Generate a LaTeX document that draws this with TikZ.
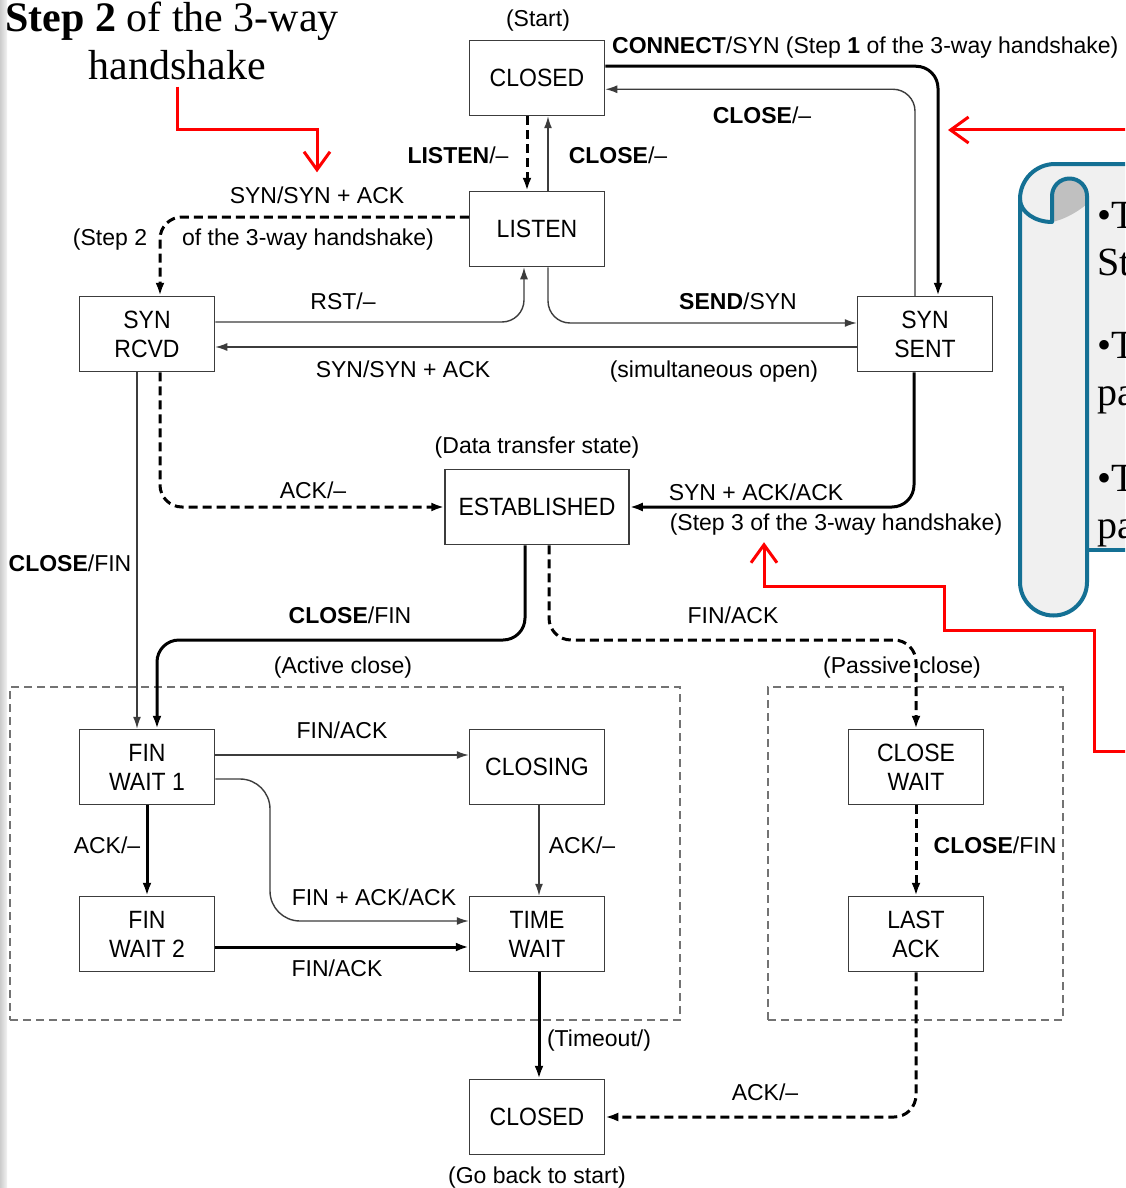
\documentclass[tikz,border=0pt]{standalone}
\usepackage{fontspec}
\setmainfont{Liberation Serif}
\newfontfamily\lblfont{Liberation Sans}
\newfontfamily\boxfont{Liberation Sans}[FakeStretch=0.92]
\usetikzlibrary{arrows.meta}
\definecolor{scrollblue}{RGB}{20,112,148}
\definecolor{sheetgray}{RGB}{240,240,240}
\definecolor{curlgray}{RGB}{192,192,192}
\definecolor{inkgray}{RGB}{60,60,60}

\begin{document}
\begin{tikzpicture}[x=1pt,y=-1pt,
  state/.style={draw=inkgray, line width=1.5pt, minimum width=135pt, minimum height=75pt,
    inner sep=2pt, align=center, font=\boxfont\fontsize{25}{29}\selectfont},
  lbl/.style={font=\lblfont\fontsize{23}{27}\selectfont, inner sep=0pt, text height=17pt, text depth=0pt},
  thinarr/.style={draw=inkgray, line width=1.4pt, -{Latex[length=12pt,width=8pt]}},
  thickarr/.style={draw=black, line width=3pt, -{Latex[length=13pt,width=9pt]}},
  dasharr/.style={thickarr, dash pattern=on 9pt off 5pt},
  groupbox/.style={draw=gray!90!black, line width=1.3pt, dash pattern=on 8pt off 5pt,
    minimum height=333pt, inner sep=0pt},
  curve/.style={rounded corners=22pt},
  redarr/.style={draw=red, line width=3pt, -{Straight Barb[length=18pt,width=26pt]}},
  note/.style={font=\fontsize{42}{47}\selectfont, inner sep=0pt},
  scrolltext/.style={font=\fontsize{40}{47}\selectfont, inner sep=0pt, anchor=base west},
  scrollline/.style={draw=scrollblue, line width=4pt, line join=round}
]
\clip (0,0) rectangle (1125,1188);
\fill[white] (0,0) rectangle (1125,1188);
\shade[left color=black!20, right color=black!5] (0,0) rectangle (7,1188);

% ---------- scroll panel on the right ----------
\fill[sheetgray] (1020,199) arc[start angle=180, end angle=270, radius=35] -- (1140,164)
  -- (1140,550) -- (1087,550) -- (1087,582) arc[start angle=0, end angle=180, radius=33.5] -- cycle;
\fill[curlgray] (1052,222) -- (1052,196) arc[start angle=180, end angle=360, radius=17.5]
  -- (1087,204) .. controls (1075,214) and (1062,220) .. (1052,222);
\draw[scrollline] (1020,199) arc[start angle=180, end angle=270, radius=35] -- (1140,164);
\draw[scrollline] (1020,199) -- (1020,582) arc[start angle=180, end angle=0, radius=33.5]
  -- (1087,196) arc[start angle=360, end angle=180, radius=17.5] -- (1052,222)
  .. controls (1035,222) and (1020,212) .. (1020,199);
\draw[scrollline] (1087,550) -- (1140,550);
\node[scrolltext] (sa) at (1097,228) {•T};
\node[scrolltext] (sb) at (1097,275) {St};
\node[scrolltext] (sc) at (1097,358) {•T};
\node[scrolltext] (sd) at (1097,405) {pa};
\node[scrolltext] (se) at (1097,491) {•T};
\node[scrolltext] (sf) at (1097,538) {pa};

% ---------- note at the top left ----------
\node[note, anchor=base] (notea) at (172,32) {\textbf{Step 2} of the 3-way};
\node[note, anchor=base] (noteb) at (177,80) {handshake};

% ---------- group frames ----------
\node[groupbox, minimum width=670pt] (activebox) at (345,853.5) {};
\node[groupbox, minimum width=295pt] (passivebox) at (915.5,853.5) {};

% ---------- states ----------
\node[state] (closedA) at (537,78) {CLOSED};
\node[state] (listen) at (537,229) {LISTEN};
\node[state] (synrcvd) at (147,334) {SYN\\RCVD};
\node[state] (synsent) at (925,334) {SYN\\SENT};
\node[state, minimum width=184pt] (estab) at (537,507) {ESTABLISHED};
\node[state] (fw1) at (147,767) {FIN\\WAIT 1};
\node[state] (closing) at (537,767) {CLOSING};
\node[state] (fw2) at (147,934) {FIN\\WAIT 2};
\node[state] (timewait) at (537,934) {TIME\\WAIT};
\node[state] (closewait) at (916,767) {CLOSE\\WAIT};
\node[state] (lastack) at (916,934) {LAST\\ACK};
\node[state] (closedB) at (537,1117) {CLOSED};

% ---------- labels ----------
\node[lbl] (lstart) at (538,18) {(Start)};
\node[lbl, anchor=west] (lconnect) at (612,45) {\textbf{CONNECT}/SYN (Step \textbf{1} of the 3-way handshake)};
\node[lbl] (lclose1) at (762,115) {\textbf{CLOSE}/–};
\node[lbl] (llisten) at (458,155) {\textbf{LISTEN}/–};
\node[lbl] (lclose2) at (618,155) {\textbf{CLOSE}/–};
\node[lbl] (lsynack1) at (317,195) {SYN/SYN + ACK};
\node[lbl] (lstep2a) at (110,237) {(Step 2};
\node[lbl] (lstep2b) at (308,237) {of the 3-way handshake)};
\node[lbl] (lrst) at (343,301) {RST/–};
\node[lbl] (lsend) at (738,301) {\textbf{SEND}/SYN};
\node[lbl] (lsynack2) at (403,369) {SYN/SYN + ACK};
\node[lbl] (lsimul) at (714,369) {(simultaneous open)};
\node[lbl] (ldata) at (537,445) {(Data transfer state)};
\node[lbl] (lack1) at (313,490) {ACK/–};
\node[lbl] (lsynackack) at (756,492) {SYN + ACK/ACK};
\node[lbl] (lstep3) at (836,522) {(Step 3 of the 3-way handshake)};
\node[lbl] (lclosefin1) at (70,563) {\textbf{CLOSE}/FIN};
\node[lbl] (lclosefin2) at (350,615) {\textbf{CLOSE}/FIN};
\node[lbl] (lfinack1) at (733,615) {FIN/ACK};
\node[lbl] (lactive) at (343,665) {(Active close)};
\node[lbl] (lpassive) at (902,665) {(Passive\hspace{8pt}close)};
\node[lbl] (lfinack2) at (342,730) {FIN/ACK};
\node[lbl] (lack2) at (107,845) {ACK/–};
\node[lbl] (lack3) at (582,845) {ACK/–};
\node[lbl] (lclosefin3) at (995,845) {\textbf{CLOSE}/FIN};
\node[lbl] (lfinackack) at (374,897) {FIN + ACK/ACK};
\node[lbl] (lfinack3) at (337,968) {FIN/ACK};
\node[lbl] (ltimeout) at (599,1038) {(Timeout/)};
\node[lbl] (lack4) at (765,1092) {ACK/–};
\node[lbl] (lgoback) at (537,1175) {(Go back to start)};

% ---------- transitions: opening ----------
\draw[thickarr, curve] ([yshift=-26.5pt]closedA.north east) -| ([xshift=13pt]synsent.north);
\draw[thinarr, curve] ([xshift=-10pt]synsent.north) |- ([yshift=-49.5pt]closedA.north east);
\draw[dasharr] ([xshift=-10pt]closedA.south) -- ([xshift=-10pt]listen.north);
\draw[thinarr] ([xshift=11pt]listen.north) -- ([xshift=11pt]closedA.south);
\draw[dasharr, curve] ([yshift=12pt]listen.west) -| ([xshift=13pt]synrcvd.north);
\draw[thinarr, curve] ([xshift=11pt]listen.south) |- ([yshift=11pt]synsent.west);
\draw[thinarr, curve] ([yshift=12pt]synrcvd.east) -| ([xshift=-13pt]listen.south);
\draw[thinarr] ([yshift=-13pt]synsent.west) -- ([yshift=-13pt]synrcvd.east);
\draw[thickarr, curve] ([xshift=-11pt]synsent.south) |- (estab.east);
\draw[dasharr, curve] ([xshift=13pt]synrcvd.south) |- (estab.west);
\draw[thinarr] ([xshift=-10pt]synrcvd.south) -- ([xshift=-10pt]fw1.north);

% ---------- transitions: closing ----------
\coordinate (actv) at (340,640);
\coordinate (pasv) at (730,640);
\draw[thickarr, curve] ([xshift=-12pt]estab.south) |- (actv) -| ([xshift=10pt]fw1.north);
\draw[dasharr, curve] ([xshift=12pt]estab.south) |- (pasv) -| (closewait.north);
\draw[thinarr] ([yshift=12pt]fw1.east) -- ([yshift=12pt]closing.west);
\draw[thickarr] (fw1.south) -- (fw2.north);
\coordinate (fabend) at (270,850);
\draw[thinarr, rounded corners=30pt] ([yshift=-12pt]fw1.east) -| (fabend) |- ([yshift=13pt]timewait.west);
\draw[thinarr] ([xshift=2pt]closing.south) -- ([xshift=2pt]timewait.north);
\draw[thickarr] ([yshift=-13pt]fw2.east) -- ([yshift=-13pt]timewait.west);
\draw[thickarr] ([xshift=2pt]timewait.south) -- ([xshift=2pt]closedB.north);
\draw[dasharr] (closewait.south) -- (lastack.north);
\draw[dasharr, curve] (lastack.south) |- (closedB.east);

% ---------- red pointers ----------
\coordinate (r1mid) at (250,130);
\draw[redarr] ([yshift=-6pt]noteb.south) |- (r1mid) -| ([yshift=14pt]lsynack1.north);
\coordinate (r2start) at (1130,130);
\coordinate (r2tip) at (948,130);
\draw[redarr] (r2start) -- (r2tip);
\coordinate (r3start) at (1130,751);
\draw[redarr] (r3start) -- (1094,751) -- (1094,630) -- (944,630) -- (944,586)
  -| ([xshift=-72pt,yshift=-11.5pt]lstep3.south);
\end{tikzpicture}
\end{document}
